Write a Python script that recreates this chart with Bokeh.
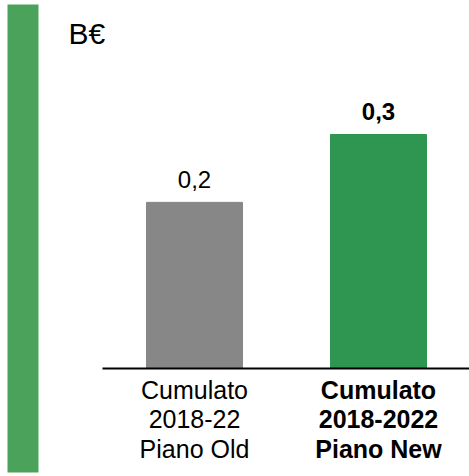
from bokeh.plotting import figure
from bokeh.models import ColumnDataSource, Range1d, BoxAnnotation, Label
from bokeh.core.properties import value
from bokeh.embed import file_html
from bokeh.resources import INLINE

# ---- data ----
categories = ["Cumulato\n2018-22\nPiano Old", "Cumulato\n2018-2022\nPiano New"]
values = [0.213, 0.30]
value_labels = ["0,2", "0,3"]
bar_colors = ["#878787", "#2e9650"]
font_styles = ["normal", "bold"]
unit_label = "B€"

# ---- layout helpers (pixel geometry) ----
W, H = 469, 476
PX_X = 184.0          # pixels per category step
PX_Y = 780.0          # pixels per unit of value
X0_PX, BASE_PX = 194.0, 368.0
SHIFT = 10.0          # text baseline correction (px)

x_start = -X0_PX / PX_X
x_end = (W - X0_PX) / PX_X
y_end = BASE_PX / PX_Y
y_start = -(H - BASE_PX) / PX_Y

xs = list(range(len(categories)))
src = ColumnDataSource(dict(x=xs, top=values, color=bar_colors,
                            lab=value_labels, style=font_styles,
                            ly=[v + (13 + SHIFT) / PX_Y for v in values]))

# category label rows (one per line)
cx, cy, ct, cs = [], [], [], []
for i, (cat, st) in enumerate(zip(categories, font_styles)):
    for j, line in enumerate(cat.split("\n")):
        cx.append(xs[i])
        cy.append(-(31 + 29.5 * j - SHIFT) / PX_Y)
        ct.append(line)
        cs.append(st)
csrc = ColumnDataSource(dict(x=cx, y=cy, t=ct, s=cs))

FONT = "Liberation Sans"
p = figure(width=W, height=H, output_backend="svg", toolbar_location=None,
           x_axis_location=None, y_axis_location=None, min_border=0,
           x_range=Range1d(x_start, x_end), y_range=Range1d(y_start, y_end))
p.grid.visible = False
p.outline_line_color = None
p.background_fill_color = "white"

# left decorative band
p.add_layout(BoxAnnotation(left=(7 - X0_PX) / PX_X, right=(38 - X0_PX) / PX_X,
                           top=(BASE_PX - 4) / PX_Y, bottom=-(472 - BASE_PX) / PX_Y,
                           fill_color="#4ba35b", fill_alpha=1.0, line_alpha=0))

# bars
p.vbar(x="x", top="top", bottom=0, width=96 / PX_X, color="color", source=src)

# baseline
p.segment(x0=(102 - X0_PX) / PX_X, y0=0, x1=x_end, y1=0,
          line_color="black", line_width=2)

# value labels
p.text(x="x", y="ly", text="lab", source=src, text_align="center",
       text_baseline="alphabetic", text_font=value(FONT),
       text_font_size="24px", text_font_style="style", text_color="black")

# category labels
p.text(x="x", y="y", text="t", source=csrc, text_align="center",
       text_baseline="alphabetic", text_font=value(FONT),
       text_font_size="25px", text_font_style="s", text_color="black")

# unit label
p.add_layout(Label(x=(68 - X0_PX) / PX_X, y=(BASE_PX - 45 + 12) / PX_Y, text=unit_label,
                   text_font=FONT, text_font_size="30px", text_color="black",
                   text_baseline="alphabetic"))

open("out.html", "w").write(file_html(p, INLINE))
